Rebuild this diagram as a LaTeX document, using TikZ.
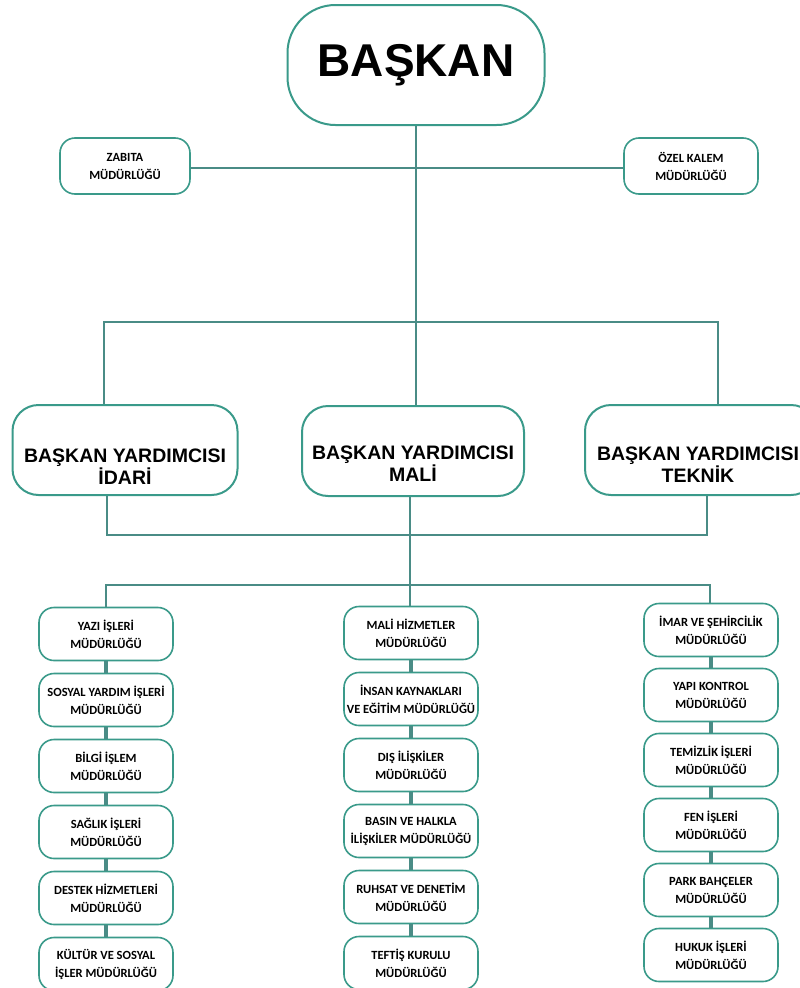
\documentclass[tikz,border=0pt]{standalone}
\usepackage{fontspec}
\setmainfont{Liberation Sans}
\newfontfamily\unitfont{Carlito}
\usetikzlibrary{positioning}
\definecolor{boxteal}{HTML}{3A9A8A}
\definecolor{linteal}{HTML}{4A8C86}
\tikzstyle{head}=[draw=boxteal,line width=2pt,rounded corners=48pt,fill=white,minimum width=257pt,minimum height=120pt,font=\bfseries\fontsize{46}{50}\selectfont]
\tikzstyle{vp}=[draw=boxteal,line width=2pt,rounded corners=26pt,fill=white,minimum height=90pt]
\tikzstyle{vptxt}=[align=center,inner sep=0pt,font=\bfseries\fontsize{19.5}{22}\selectfont]
\tikzstyle{unit}=[draw=boxteal,line width=1.6pt,rounded corners=15pt,fill=white,minimum width=134pt,minimum height=53pt,align=center,inner sep=1pt,font=\unitfont\bfseries\fontsize{12.5}{18}\selectfont]
\tikzstyle{conn}=[draw=linteal,line width=2.2pt]
\tikzstyle{stack}=[draw=linteal,line width=3.2pt]

\begin{document}
\begin{tikzpicture}[x=1pt,y=-1pt]
\useasboundingbox (0,0) rectangle (800,988);

% junctions
\coordinate (j0) at (416,322);
\coordinate (jl) at (104,322);
\coordinate (jr) at (718,322);
\coordinate (kl) at (107,535);
\coordinate (k0) at (410,535);
\coordinate (kr) at (707,535);
\coordinate (ml) at (106,585);
\coordinate (m0) at (410,585);
\coordinate (mr) at (710,585);

% lines first, boxes on top
\draw[conn] (416,65) -- (j0);
\draw[conn] (125,168) -- (691,168);

\node[head] (baskan) at (416,65) {BAŞKAN};
\node[unit,minimum width=130pt,minimum height=56pt] (zabita) at (125,166) {ZABITA\\MÜDÜRLÜĞÜ};
\node[unit,minimum width=134pt,minimum height=56pt] (ozel) at (691,166) {ÖZEL KALEM\\MÜDÜRLÜĞÜ};

\node[vp,minimum width=225pt] (idari) at (125,450) {};
\node[vp,minimum width=222pt] (mali) at (413,451) {};
\node[vp,minimum width=232pt] (teknik) at (701,450) {};
\node[vptxt] (idari-t) at ([yshift=-17pt]idari.center) {BAŞKAN YARDIMCISI\\İDARİ};
\node[vptxt] (mali-t) at ([yshift=-13pt]mali.center) {BAŞKAN YARDIMCISI\\MALİ};
\node[vptxt] (teknik-t) at ([xshift=-3pt,yshift=-15pt]teknik.center) {BAŞKAN YARDIMCISI\\TEKNİK};

\draw[conn] (idari.north -| jl) -- (jl) -- (jr) -- (teknik.north -| jr);
\draw[conn] (j0) -- (mali.north -| j0);
\draw[conn] (idari.south -| kl) -- (kl) -- (kr) -- (teknik.south -| kr);
\draw[conn] (mali.south -| k0) -- (m0);

% units
\foreach \t [count=\i] in {{YAZI İŞLERİ\\MÜDÜRLÜĞÜ}, {SOSYAL YARDIM İŞLERİ\\MÜDÜRLÜĞÜ}, {BİLGİ İŞLEM\\MÜDÜRLÜĞÜ}, {SAĞLIK İŞLERİ\\MÜDÜRLÜĞÜ}, {DESTEK HİZMETLERİ\\MÜDÜRLÜĞÜ}, {KÜLTÜR VE SOSYAL\\İŞLER MÜDÜRLÜĞÜ}}
    \node[unit] (a\i) at (106,568+66*\i) {\t};
\foreach \t [count=\i] in {{MALİ HİZMETLER\\MÜDÜRLÜĞÜ}, {İNSAN KAYNAKLARI\\VE EĞİTİM MÜDÜRLÜĞÜ}, {DIŞ İLİŞKİLER\\MÜDÜRLÜĞÜ}, {BASIN VE HALKLA\\İLİŞKİLER MÜDÜRLÜĞÜ}, {RUHSAT VE DENETİM\\MÜDÜRLÜĞÜ}, {TEFTİŞ KURULU\\MÜDÜRLÜĞÜ}}
    \node[unit] (b\i) at (411,567+66*\i) {\t};
\foreach \t [count=\i] in {{İMAR VE ŞEHİRCİLİK\\MÜDÜRLÜĞÜ}, {YAPI KONTROL\\MÜDÜRLÜĞÜ}, {TEMİZLİK İŞLERİ\\MÜDÜRLÜĞÜ}, {FEN İŞLERİ\\MÜDÜRLÜĞÜ}, {PARK BAHÇELER\\MÜDÜRLÜĞÜ}, {HUKUK İŞLERİ\\MÜDÜRLÜĞÜ}}
    \node[unit] (c\i) at (711,565+65*\i) {\t};

\draw[conn] (a1.north -| ml) -- (ml) -- (mr) -- (c1.north -| mr);
\draw[conn] (m0) -- (b1.north -| m0);
\foreach \col in {a,b,c}
    \foreach \p/\q in {1/2,2/3,3/4,4/5,5/6}
        \draw[stack] (\col\p.south) -- (\col\q.north);
\end{tikzpicture}
\end{document}
